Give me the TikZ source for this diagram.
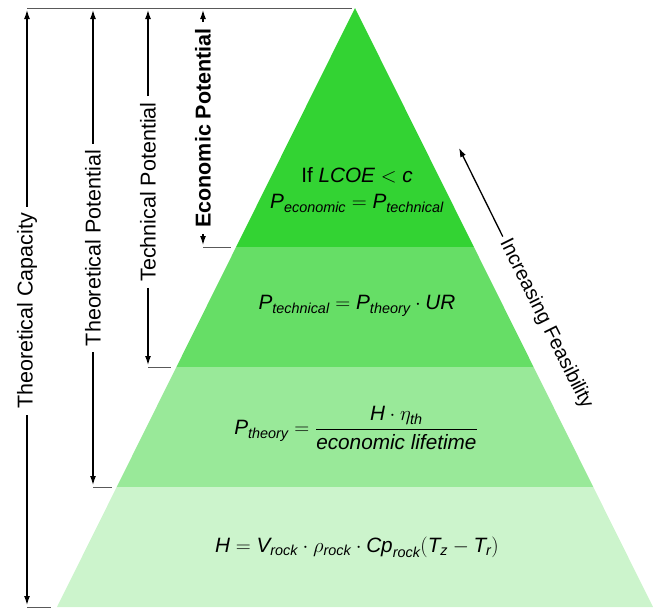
\documentclass[tikz,border=0pt]{standalone}
\usepackage{amsmath}
\usepackage{fontspec}
\setmainfont{Liberation Sans}
\usetikzlibrary{arrows.meta}
\definecolor{bandA}{RGB}{51,211,51}
\definecolor{bandB}{RGB}{102,222,102}
\definecolor{bandC}{RGB}{153,233,153}
\definecolor{bandD}{RGB}{204,244,204}
\newcommand\iv[1]{\textit{#1}}
\begin{document}
\begin{tikzpicture}[x=1pt,y=-1pt,
  lbl/.style={rotate=90, font=\fontsize{21.5}{24}\selectfont, inner xsep=6pt, inner ysep=0pt},
  arr/.style={-{Latex[length=9pt,width=6pt]}, line width=1.3pt},
  tickline/.style={draw=black!65, line width=1pt},
  formula/.style={font=\fontsize{20.74}{26}\selectfont, align=center}]
\useasboundingbox (0,0) rectangle (657,608);
% pyramid bands
\fill[bandA] (355,8) -- (473.9,247) -- (236.1,247) -- cycle;
\fill[bandB] (236.1,247) -- (473.9,247) -- (533.6,367) -- (176.4,367) -- cycle;
\fill[bandC] (176.4,367) -- (533.6,367) -- (593.3,487) -- (116.7,487) -- cycle;
\fill[bandD] (116.7,487) -- (593.3,487) -- (653,607) -- (57,607) -- cycle;
% formulas
\node[formula] (f1) at (357,190) {If $\iv{LCOE} < \iv{c}$\\[0pt]$\iv{P}_{\iv{economic}} = \iv{P}_{\iv{technical}}$};
\node[formula] (f2) at (357,306) {$\iv{P}_{\iv{technical}} = \iv{P}_{\iv{theory}}\cdot \iv{UR}$};
\node[formula] (f3) at (356,428) {$\iv{P}_{\iv{theory}} = \dfrac{\iv{H}\cdot\eta_{\iv{th}}}{\iv{economic lifetime}}$};
\node[formula] (f4) at (357,547) {$\iv{H} = \iv{V}_{\iv{rock}}\cdot\rho_{\iv{rock}}\cdot \iv{Cp}_{\iv{rock}}(\iv{T}_{\iv{z}} - \iv{T}_{\iv{r}})$};
% reference lines
\coordinate (topL) at (27,8);
\coordinate (topR) at (352,8);
\draw[tickline] (topL) -- (topR);
\coordinate (tA1) at (203,247); \coordinate (tA2) at (231,247);
\coordinate (tB1) at (148,367); \coordinate (tB2) at (171,367);
\coordinate (tC1) at (93,487);  \coordinate (tC2) at (112,487);
\coordinate (tD1) at (27,607);  \coordinate (tD2) at (51,607);
\draw[tickline] (tA1) -- (tA2);
\draw[tickline] (tB1) -- (tB2);
\draw[tickline] (tC1) -- (tC2);
\draw[tickline] (tD1) -- (tD2);
% dimension labels and arrows
\node[lbl] (cap) at (27,311) {Theoretical Capacity};
\coordinate (capT) at (27,10); \coordinate (capB) at (27,605);
\draw[arr] (cap) -- (capT); \draw[arr] (cap) -- (capB);
\node[lbl] (theo) at (93,248) {Theoretical Potential};
\coordinate (theoT) at (93,10); \coordinate (theoB) at (93,485);
\draw[arr] (theo) -- (theoT); \draw[arr] (theo) -- (theoB);
\node[lbl] (tech) at (148,192) {Technical Potential};
\coordinate (techT) at (148,10); \coordinate (techB) at (148,365);
\draw[arr] (tech) -- (techT); \draw[arr] (tech) -- (techB);
\node[lbl, font=\fontsize{21.5}{24}\selectfont\bfseries] (econ) at (203,128) {Economic Potential};
\coordinate (econT) at (203,10); \coordinate (econB) at (203,245);
\draw[arr] (econ) -- (econT); \draw[arr] (econ) -- (econB);
% increasing feasibility
\node[rotate=-63.55, font=\fontsize{20}{24}\selectfont, inner xsep=4pt, inner ysep=0pt] (feas) at (546,324) {Increasing Feasibility};
\coordinate (feasT) at (459,148);
\draw[arr] (feas) -- (feasT);
\end{tikzpicture}
\end{document}
